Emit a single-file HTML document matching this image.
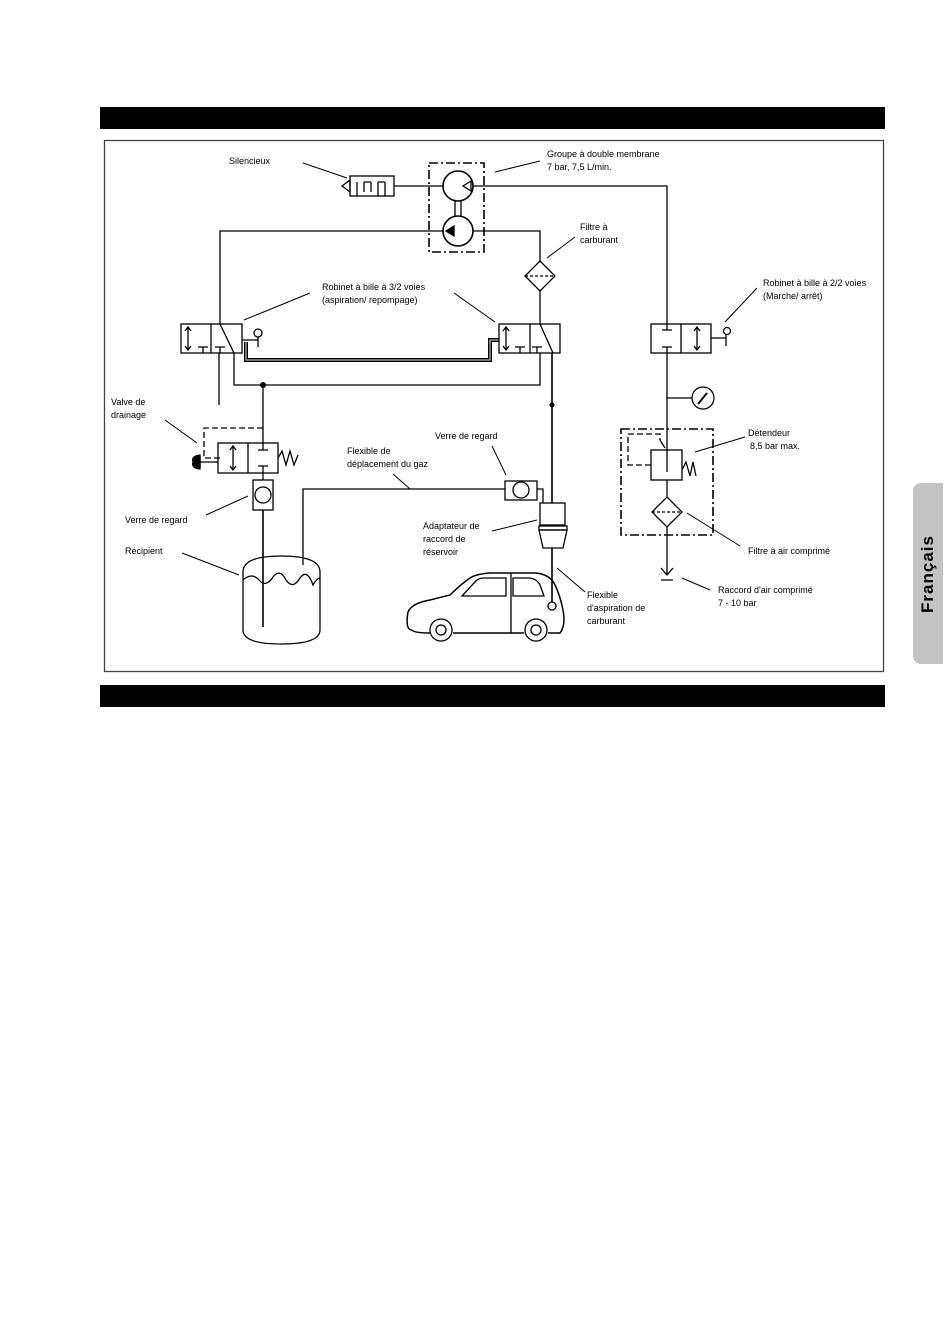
<!DOCTYPE html>
<html><head><meta charset="utf-8"><style>
html,body{margin:0;padding:0;background:#fff}
body{width:950px;height:1344px;position:relative;overflow:hidden}
.bar{position:absolute;left:100px;width:785px;height:22px;background:#000}
.tab{position:absolute;left:913px;top:483px;width:30px;height:181px;background:#c3c3c3;border-radius:8px 0 0 8px}
.tab span{position:absolute;left:50%;top:50%;transform:translate(-50%,-50%) rotate(-90deg);font:bold 17px "Liberation Sans",sans-serif;letter-spacing:1px;white-space:nowrap}
svg{position:absolute;left:0;top:0}
text{font-family:"Liberation Sans",sans-serif;font-size:9px;fill:#000}
</style></head><body>
<div class="bar" style="top:107px"></div>
<div class="bar" style="top:685px"></div>
<div class="tab"><span>Français</span></div>
<svg width="950" height="1344" viewBox="0 0 950 1344">
<g fill="none" stroke="#000" stroke-width="1.3">
<rect x="104.5" y="140.5" width="779" height="531" stroke="#444"/>
<polygon points="350,180 342,186 350,192"/>
<rect x="350" y="176" width="44" height="20"/>
<path d="M357,196V182M364,182V192M371,182V192M364,182H371M378,196V182M385,182V196M378,182H385"/>
<line x1="394" y1="186" x2="443" y2="186"/>
<rect x="429" y="163" width="55" height="89" stroke-dasharray="9,3,2,3" stroke-width="1.6"/>
<circle cx="458" cy="186" r="15" stroke-width="1.6"/>
<circle cx="458" cy="231" r="15" stroke-width="1.6"/>
<path d="M455,201V216M461,201V216"/>
<polygon points="471,181 463,186 471,191"/>
<polygon points="454,226 446,231 454,236" fill="#000"/>
<path d="M473,186H667V324"/>
<path d="M443,231H220V324"/>
<path d="M473,231H540V261"/>
<polygon points="540,261 555,276 540,291 525,276"/>
<line x1="525" y1="276" x2="555" y2="276" stroke-dasharray="3,2"/>
<line x1="540" y1="291" x2="540" y2="324"/>
<rect x="181" y="324" width="61" height="29"/><line x1="211" y1="324" x2="211" y2="353"/>
<path d="M188,328V349"/><path d="M185,331L188,327L191,331M185,346L188,350L191,346"/>
<path d="M198,347H208M203,347V353M215,347H225M220,347V353"/>
<path d="M220,324L234,353"/>
<path d="M242,340H258M258,337V347"/><circle cx="258" cy="333" r="4"/>
<path d="M219,353V405M234,353V385H540V353"/>
<path d="M246,342V360H490V340H499" stroke-width="4"/>
<path d="M246,342V360H490V340H499" stroke="#999" stroke-width="1.5"/>
<rect x="499" y="324" width="61" height="29"/><line x1="530" y1="324" x2="530" y2="353"/>
<path d="M506,328V349"/><path d="M503,331L506,327L509,331M503,346L506,350L509,346"/>
<path d="M515,347H525M520,347V353M532,347H542M537,347V353"/>
<path d="M540,324L553,353"/>
<path d="M552,353V503" stroke-width="1.6"/>
<path d="M263,385V443"/>
<path d="M263,428H204V458H220" stroke-dasharray="6,3"/>
<rect x="218" y="443" width="60" height="30"/><line x1="248" y1="443" x2="248" y2="473"/>
<path d="M233,447V469"/><path d="M230,450L233,446L236,450M230,466L233,470L236,466"/>
<path d="M258,450H268M263,443V450M258,466H268M263,466V473"/>
<path d="M278,458L282,451L286,465L290,451L294,465L298,455"/>
<path d="M218,462H200M200,457V467"/><path d="M200,455Q191,456 193,462Q191,468 200,469Z" fill="#000"/>
<path d="M263,473V480"/>
<rect x="253" y="480" width="20" height="30"/><circle cx="263" cy="495" r="8"/>
<path d="M263,510V627" stroke-width="1.6"/>
<path d="M243,572Q243,556 281,556Q320,556 320,572V630Q320,644 281,644Q243,644 243,630Z"/>
<path d="M243,580Q252,572 259,580Q266,588 273,577Q280,568 286,580Q293,590 300,578Q307,568 313,585Q317,578 320,578"/>
<path d="M303,565V489H505"/>
<rect x="505" y="481" width="32" height="19"/><circle cx="521" cy="490" r="8"/>
<path d="M537,489H543V503"/>
<rect x="540" y="503" width="25" height="22"/>
<rect x="539" y="526" width="28" height="4"/>
<path d="M539,530H567L563,548H543Z"/>
<path d="M552,548V602" stroke-width="1.6"/>
<circle cx="552" cy="606" r="4"/>
<path d="M412,630Q405,630 408,612Q412,603 430,600L450,595Q460,585 470,578Q476,574 490,573H535Q550,574 555,585Q560,595 563,610Q566,625 560,633H548M524,633H453M430,633Q414,633 412,630" stroke-width="1.5"/>
<circle cx="441" cy="630" r="11"/><circle cx="441" cy="630" r="5"/>
<circle cx="536" cy="630" r="11"/><circle cx="536" cy="630" r="5"/>
<path d="M462,596L475,582Q478,578 484,578H506V596Z"/>
<path d="M513,578H530Q537,579 540,585L544,596H513Z"/>
<path d="M511,573V633"/>
<rect x="651" y="324" width="60" height="29"/><line x1="681" y1="324" x2="681" y2="353"/>
<path d="M662,330H672M667,324V330M662,347H672M667,347V353"/>
<path d="M697,328V349"/><path d="M694,331L697,327L700,331M694,346L697,350L700,346"/>
<path d="M711,338H726M726,334V346"/><circle cx="727" cy="331" r="3.5"/>
<path d="M667,353V450"/>
<path d="M667,398H692"/><circle cx="703" cy="398" r="11"/>
<path d="M698,404L707,393" stroke-width="2"/>
<rect x="621" y="429" width="92" height="106" stroke-dasharray="9,3,2,3" stroke-width="1.6"/>
<path d="M651,465H628V434H660V440" stroke-dasharray="6,3"/>
<path d="M660,440L665,448"/>
<rect x="651" y="450" width="31" height="30"/>
<path d="M667,450V472"/>
<path d="M682,470L686,462L690,476L693,462L696,476"/>
<path d="M667,480V497"/>
<polygon points="667,497 682,512 667,527 652,512"/>
<line x1="652" y1="512" x2="682" y2="512" stroke-dasharray="3,2"/>
<path d="M667,527V575M661,568L667,575L673,568M661,580H673"/>
<g stroke-width="1">
<path d="M303,163L347,178M495,172L540,161M547,258L575,237M244,320L310,293M454,293L495,322M725,322L757,288M165,420L197,443M206,515L248,496M182,553L239,575M393,474L410,489M492,446L506,475M492,531L537,520M557,568L585,592M695,452L745,437M687,513L740,546M682,578L710,590"/>
</g>
</g>
<circle cx="263" cy="385" r="3"/>
<circle cx="552" cy="405" r="2.5"/>
<text x="229" y="164">Silencieux</text>
<text x="547" y="157">Groupe à double membrane</text>
<text x="547" y="170">7 bar, 7,5 L/min.</text>
<text x="580" y="230">Filtre à</text>
<text x="580" y="243">carburant</text>
<text x="322" y="290">Robinet à bille à 3/2 voies</text>
<text x="322" y="303">(aspiration/ repompage)</text>
<text x="763" y="286">Robinet à bille à 2/2 voies</text>
<text x="763" y="299">(Marche/ arrêt)</text>
<text x="111" y="405">Valve de</text>
<text x="111" y="418">drainage</text>
<text x="125" y="523">Verre de regard</text>
<text x="125" y="554">Récipient</text>
<text x="347" y="454">Flexible de</text>
<text x="347" y="467">déplacement du gaz</text>
<text x="435" y="439">Verre de regard</text>
<text x="423" y="529">Adaptateur de</text>
<text x="423" y="542">raccord de</text>
<text x="423" y="555">réservoir</text>
<text x="587" y="598">Flexible</text>
<text x="587" y="611">d'aspiration de</text>
<text x="587" y="624">carburant</text>
<text x="748" y="436">Détendeur</text>
<text x="750" y="449">8,5 bar max.</text>
<text x="748" y="554">Filtre à air comprimé</text>
<text x="718" y="593">Raccord d'air comprimé</text>
<text x="718" y="606">7 - 10 bar</text>
</svg>
</body></html>
